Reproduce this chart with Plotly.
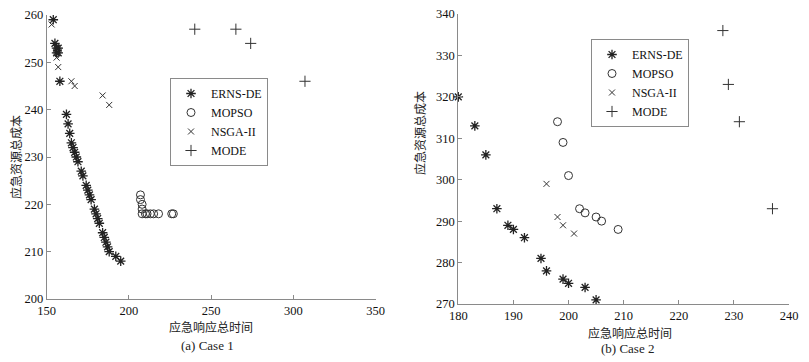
import plotly.graph_objects as go

# ---- Case 1 data ----
c1_erns_x = [154, 155, 156, 156, 157, 157, 158, 162, 163, 164, 165, 166, 167, 168, 169, 171, 172,
             174, 175, 176, 177, 179, 180, 181, 182, 184, 185, 186, 187, 188, 192, 195]
c1_erns_y = [259, 254, 253, 252, 253, 252, 246, 239, 237, 235, 233, 232, 231, 230, 229, 227, 226,
             224, 223, 222, 221, 219, 218, 217, 216, 214, 213, 212, 211, 210, 209, 208]
c1_mopso_x = [207, 207, 208, 208, 208, 210, 211, 213, 215, 218, 226, 227]
c1_mopso_y = [222, 221, 220, 219, 218, 218, 218, 218, 218, 218, 218, 218]
c1_nsga_x = [153, 156, 157, 165, 167, 184, 188]
c1_nsga_y = [258, 251, 249, 246, 245, 243, 241]
c1_mode_x = [240, 265, 274, 307]
c1_mode_y = [257, 257, 254, 246]

# ---- Case 2 data ----
c2_erns_x = [180, 183, 185, 187, 189, 190, 192, 195, 196, 199, 200, 203, 205]
c2_erns_y = [320, 313, 306, 293, 289, 288, 286, 281, 278, 276, 275, 274, 271]
c2_mopso_x = [198, 199, 200, 202, 203, 205, 206, 209]
c2_mopso_y = [314, 309, 301, 293, 292, 291, 290, 288]
c2_nsga_x = [196, 198, 199, 201]
c2_nsga_y = [299, 291, 289, 287]
c2_mode_x = [228, 229, 231, 237]
c2_mode_y = [336, 323, 314, 293]

series_names = ["ERNS-DE", "MOPSO", "NSGA-II", "MODE"]
x1_ticks = [150, 200, 250, 300, 350]
y1_ticks = [200, 210, 220, 230, 240, 250, 260]
x2_ticks = [180, 190, 200, 210, 220, 230, 240]
y2_ticks = [270, 280, 290, 300, 310, 320, 330, 340]

W, H = 809, 362
OFF = 8  # page body margin offset
SERIF = "Liberation Serif, Times New Roman, serif"
CJK = "Noto Sans CJK SC"
AX = "#8a8a8a"

styles = [
    dict(symbol="asterisk-open", size=8, color="#222222", line=dict(width=1.3, color="#222222")),
    dict(symbol="circle-open", size=8, color="#333333", line=dict(width=1, color="#333333")),
    dict(symbol="x-thin-open", size=6, color="#333333", line=dict(width=1, color="#333333")),
    dict(symbol="cross-thin-open", size=8, color="#333333", line=dict(width=1, color="#333333")),
]

fig = go.Figure()
case1 = [(c1_erns_x, c1_erns_y), (c1_mopso_x, c1_mopso_y), (c1_nsga_x, c1_nsga_y), (c1_mode_x, c1_mode_y)]
case2 = [(c2_erns_x, c2_erns_y), (c2_mopso_x, c2_mopso_y), (c2_nsga_x, c2_nsga_y), (c2_mode_x, c2_mode_y)]
for i, (xs, ys) in enumerate(case1):
    fig.add_trace(go.Scatter(x=xs, y=ys, mode="markers", name=series_names[i], marker=styles[i],
                             xaxis="x", yaxis="y", legend="legend", cliponaxis=False))
for i, (xs, ys) in enumerate(case2):
    fig.add_trace(go.Scatter(x=xs, y=ys, mode="markers", name=series_names[i], marker=styles[i],
                             xaxis="x2", yaxis="y2", legend="legend2", cliponaxis=False))

def px_x(p):
    return (p - OFF) / W

def px_y(p):
    return 1 - (p - OFF) / H

axis_common = dict(showline=True, linecolor=AX, linewidth=1, ticks="inside", ticklen=4,
                   tickcolor=AX, showgrid=False, zeroline=False, automargin=False,
                   ticklabeloverflow="allow",
                   tickfont=dict(family=SERIF, size=12.5, color="#111111"))

legend_common = dict(xanchor="left", yanchor="top", bordercolor=AX, borderwidth=1,
                     bgcolor="white", tracegroupgap=0,
                     font=dict(family=SERIF, size=12, color="#111111"))

fig.update_layout(
    width=W, height=H,
    margin=dict(l=0, r=0, t=0, b=0, pad=0, autoexpand=False),
    paper_bgcolor="white", plot_bgcolor="white",
    xaxis=dict(domain=[px_x(46.7), px_x(375.7)], range=[150, 350], tickvals=x1_ticks,
               anchor="y", **axis_common),
    yaxis=dict(domain=[px_y(299), px_y(15)], range=[200, 260], tickvals=y1_ticks,
               anchor="x", **axis_common),
    xaxis2=dict(domain=[px_x(458.3), px_x(789)], range=[180, 240], tickvals=x2_ticks,
                anchor="y2", **axis_common),
    yaxis2=dict(domain=[px_y(304), px_y(14)], range=[270, 340], tickvals=y2_ticks,
                anchor="x2", **axis_common),
    legend=dict(x=px_x(170), y=px_y(78), **legend_common),
    legend2=dict(x=px_x(591), y=px_y(39), **legend_common),
    showlegend=True,
)

ann = []
def label(text, x, y, family, size, angle=0):
    ann.append(dict(text=text, x=px_x(x), y=px_y(y), xref="paper", yref="paper",
                    showarrow=False, xanchor="center", yanchor="middle", textangle=angle,
                    font=dict(family=family, size=size, color="#222222")))

label("应急响应总时间", 211, 326, CJK, 12)
label("(a) Case 1", 207, 345, SERIF, 13)
label("应急资源总成本", 15, 157, CJK, 12, -90)
label("应急响应总时间", 630, 332, CJK, 12)
label("(b) Case 2", 627, 348, SERIF, 13)
label("应急资源总成本", 420, 133, CJK, 12, -90)
fig.update_layout(annotations=ann)

fig.write_html("out.html")
